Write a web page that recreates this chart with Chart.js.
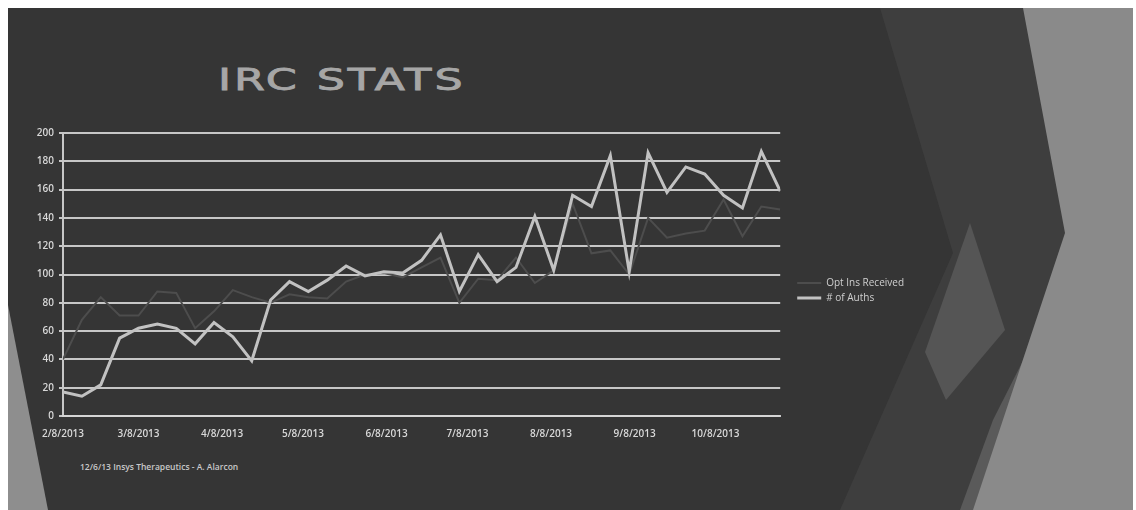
<!DOCTYPE html>
<html>
<head>
<meta charset="utf-8">
<script src="https://cdn.jsdelivr.net/npm/chart.js@4.4.1/dist/chart.umd.min.js"></script>
<style>
  html, body { margin: 0; padding: 0; background: #fff; }
  #slide { position: relative; width: 1136px; height: 510px; overflow: hidden; background: #fff; }
  #bg { position: absolute; left: 0; top: 0; }
  #title {
    position: absolute; left: 218px; top: 62px; margin: 0;
    font: 30px "DejaVu Sans", sans-serif; color: #a6a6a6;
    -webkit-text-stroke: 0.8px #a6a6a6;
    letter-spacing: 2px; transform: scaleX(1.48); transform-origin: left top;
    white-space: nowrap;
  }
  #footer {
    position: absolute; left: 80px; top: 461px;
    font: 600 8.5px "Open Sans", sans-serif; color: #c8c8c8; white-space: nowrap;
  }
  #wrap { position: absolute; left: 0; top: 118px; width: 914px; height: 330px; }
</style>
</head>
<body>
<div id="slide">
  <svg id="bg" width="1136" height="510">
    <rect x="8" y="8" width="1125" height="502" fill="#353535"/>
    <polygon points="8,305 48,510 8,510" fill="#8e8e8e"/>
    <polygon points="880,8 953,253 840,510 1133,510 1133,8" fill="#3e3e3e"/>
    <polygon points="970,223 925,352 946,400 1005,330" fill="#555"/>
    <polygon points="1037,333 993,420 960,510 1000,510" fill="#5a5a5a"/>
    <polygon points="1023,8 1065,233 973,510 1133,510 1133,8" fill="#8a8a8a"/>
  </svg>
  <div id="title">IRC STATS</div>
  <div id="wrap"><canvas id="chart"></canvas></div>
  <div id="footer">12/6/13 Insys Therapeutics - A. Alarcon</div>
</div>
<script>
// weekly data points
const weeks = ['2/8/2013','2/15/2013','2/22/2013','3/1/2013','3/8/2013','3/15/2013','3/22/2013','3/29/2013',
  '4/5/2013','4/12/2013','4/19/2013','4/26/2013','5/3/2013','5/10/2013','5/17/2013','5/24/2013','5/31/2013',
  '6/7/2013','6/14/2013','6/21/2013','6/28/2013','7/5/2013','7/12/2013','7/19/2013','7/26/2013','8/2/2013',
  '8/9/2013','8/16/2013','8/23/2013','8/30/2013','9/6/2013','9/13/2013','9/20/2013','9/27/2013','10/4/2013',
  '10/11/2013','10/18/2013','10/25/2013','11/1/2013'];
const optIns = [40,68,84,71,71,88,87,62,74,89,84,80,86,84,83,95,100,101,98,105,112,80,97,96,112,94,103,150,115,117,100,140,126,129,131,153,127,148,146];
const auths = [17,14,22,55,62,65,62,51,66,56,39,82,95,88,96,106,99,102,101,110,128,88,114,95,105,141,103,156,148,184,102,186,158,176,171,156,147,187,159];
const monthTicks = ['2/8/2013','3/8/2013','4/8/2013','5/8/2013','6/8/2013','7/8/2013','8/8/2013','9/8/2013','10/8/2013'];
const yTicks = [0,20,40,60,80,100,120,140,160,180,200];

// days since first date
function dayOf(s) {
  const [m, d, y] = s.split('/').map(Number);
  return (Date.UTC(y, m - 1, d) - Date.UTC(2013, 1, 8)) / 86400000;
}
const xs = weeks.map(dayOf);
const tickLabel = {};
monthTicks.forEach(s => { tickLabel[dayOf(s)] = s; });

const gridColor = 'rgba(215,215,215,0.9)';
const tickFont = { family: 'Open Sans', size: 10, weight: '600' };

// push the legend a bit away from the plot
const legendShift = {
  id: 'legendShift',
  afterLayout(chart) {
    chart.legend.left += 12;
    chart.legend.right += 12;
  }
};

new Chart(document.getElementById('chart'), {
  type: 'line',
  data: {
    datasets: [
      {
        label: 'Opt Ins Received',
        data: xs.map((x, i) => ({ x, y: optIns[i] })),
        borderColor: '#4d4d4d',
        borderWidth: 2,
        pointRadius: 0,
        tension: 0,
        order: 2
      },
      {
        label: '# of Auths',
        data: xs.map((x, i) => ({ x, y: auths[i] })),
        borderColor: '#c2c2c2',
        borderWidth: 3,
        pointRadius: 0,
        tension: 0,
        order: 1
      }
    ]
  },
  options: {
    responsive: true,
    maintainAspectRatio: false,
    animation: false,
    layout: { padding: { top: 15, right: 12 } },
    plugins: {
      tooltip: { enabled: false },
      legend: {
        position: 'right',
        labels: {
          color: '#cfcfcf',
          font: { family: 'Open Sans', size: 10 },
          usePointStyle: true,
          pointStyle: 'line',
          pointStyleWidth: 24,
          boxWidth: 24,
          padding: 5,
          sort: (a, b) => a.datasetIndex - b.datasetIndex
        }
      }
    },
    scales: {
      x: {
        type: 'linear',
        min: 0,
        max: xs[xs.length - 1],
        afterBuildTicks: axis => { axis.ticks = monthTicks.map(s => ({ value: dayOf(s) })); },
        afterFit: scale => { scale.height = 32; },
        grid: { display: false },
        border: { display: true, color: gridColor, width: 2 },
        ticks: {
          color: '#d8d8d8', font: tickFont, maxRotation: 0, autoSkip: false, padding: 4,
          callback: v => tickLabel[v] || ''
        }
      },
      y: {
        min: 0,
        max: 200,
        afterBuildTicks: axis => { axis.ticks = yTicks.map(v => ({ value: v })); },
        afterFit: scale => { scale.width = 63; },
        grid: { color: gridColor, lineWidth: 2, tickLength: 4 },
        border: { display: true, color: gridColor, width: 2 },
        ticks: { color: '#d8d8d8', font: tickFont, padding: 5 }
      }
    }
  },
  plugins: [legendShift]
});
</script>
</body>
</html>
